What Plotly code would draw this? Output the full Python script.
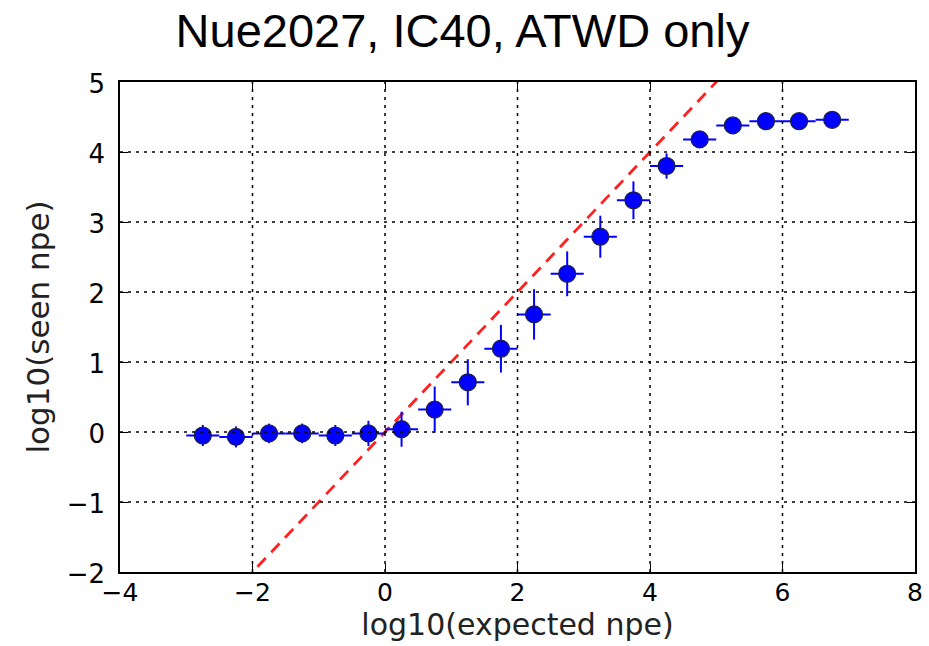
import plotly.graph_objects as go

# Data
x_centers = [-2.75, -2.25, -1.75, -1.25, -0.75, -0.25, 0.25, 0.75, 1.25, 1.75,
             2.25, 2.75, 3.25, 3.75, 4.25, 4.75, 5.25, 5.75, 6.25, 6.75]
y_seen = [-0.05, -0.07, -0.02, -0.02, -0.05, -0.02, 0.04, 0.32, 0.71, 1.19,
          1.68, 2.26, 2.79, 3.31, 3.80, 4.18, 4.38, 4.44, 4.44, 4.46]
y_err = [0.15, 0.15, 0.14, 0.14, 0.15, 0.18, 0.25, 0.33, 0.33, 0.34,
         0.36, 0.32, 0.30, 0.27, 0.18, 0.12, 0.08, 0.07, 0.07, 0.07]
x_halfwidth = [0.25] * len(x_centers)

diag_x = [-4, 8]
diag_y = [-4, 8]

x_ticks = [-4, -2, 0, 2, 4, 6, 8]
y_ticks = [-2, -1, 0, 1, 2, 3, 4, 5]
x_range = [-4, 8]
y_range = [-2, 5]

title_text = "Nue2027, IC40, ATWD only"
x_label = "log10(expected npe)"
y_label = "log10(seen npe)"


def fmt(v):
    return ("\u2212" + str(-v)) if v < 0 else str(v)


fig = go.Figure()

fig.add_trace(go.Scatter(
    x=diag_x, y=diag_y, mode="lines",
    line=dict(color="#ff2020", width=2.8, dash="12px,8px"),
    showlegend=False, hoverinfo="skip",
))

fig.add_trace(go.Scatter(
    x=x_centers, y=y_seen, mode="markers",
    marker=dict(color="#0000ff", size=17, line=dict(color="#202040", width=1.2)),
    error_y=dict(type="data", array=y_err, color="#0000ff", thickness=2, width=0),
    error_x=dict(type="data", array=x_halfwidth, color="#0000ff", thickness=2, width=0),
    showlegend=False,
))

# dotted grid drawn above the data, as in the reference
grid_style = dict(color="black", width=1.5, dash="3px,5px")
for xv in x_ticks[1:-1]:
    fig.add_shape(type="line", xref="x", yref="paper", x0=xv, x1=xv, y0=0, y1=1,
                  line=grid_style, layer="above")
for yv in y_ticks[1:-1]:
    fig.add_shape(type="line", xref="paper", yref="y", x0=0, x1=1, y0=yv, y1=yv,
                  line=grid_style, layer="above")

axis_common = dict(
    showline=True, linecolor="black", linewidth=1.5, mirror="ticks",
    ticks="inside", ticklen=8, tickwidth=1.2, tickcolor="black",
    showgrid=False, zeroline=False, automargin=False, layer="above traces",
)

fig.update_xaxes(range=x_range, tickvals=x_ticks, ticktext=[fmt(v) for v in x_ticks],
                 tickfont=dict(family="DejaVu Sans", size=25, color="black"),
                 ticklabelstandoff=-3,
                 title_text=x_label, title_standoff=2,
                 title_font=dict(family="DejaVu Sans", size=30, color="#222222"),
                 **axis_common)
fig.update_yaxes(range=y_range, tickvals=y_ticks, ticktext=[fmt(v) for v in y_ticks],
                 tickfont=dict(family="DejaVu Sans", size=26, color="black"),
                 ticklabelstandoff=8, ticklabelshift=2,
                 title_text=y_label, title_standoff=8,
                 title_font=dict(family="DejaVu Sans", size=31, color="#222222"),
                 **axis_common)

fig.update_layout(
    width=929, height=646,
    margin=dict(l=120, r=14, t=82, b=74),
    paper_bgcolor="white", plot_bgcolor="white",
    title=dict(text=title_text, x=462.5 / 929, xanchor="center", xref="container",
               y=1 - 31 / 646, yref="container", yanchor="middle",
               font=dict(family="Liberation Sans", size=47, color="black")),
)

fig.write_html("out.html")
